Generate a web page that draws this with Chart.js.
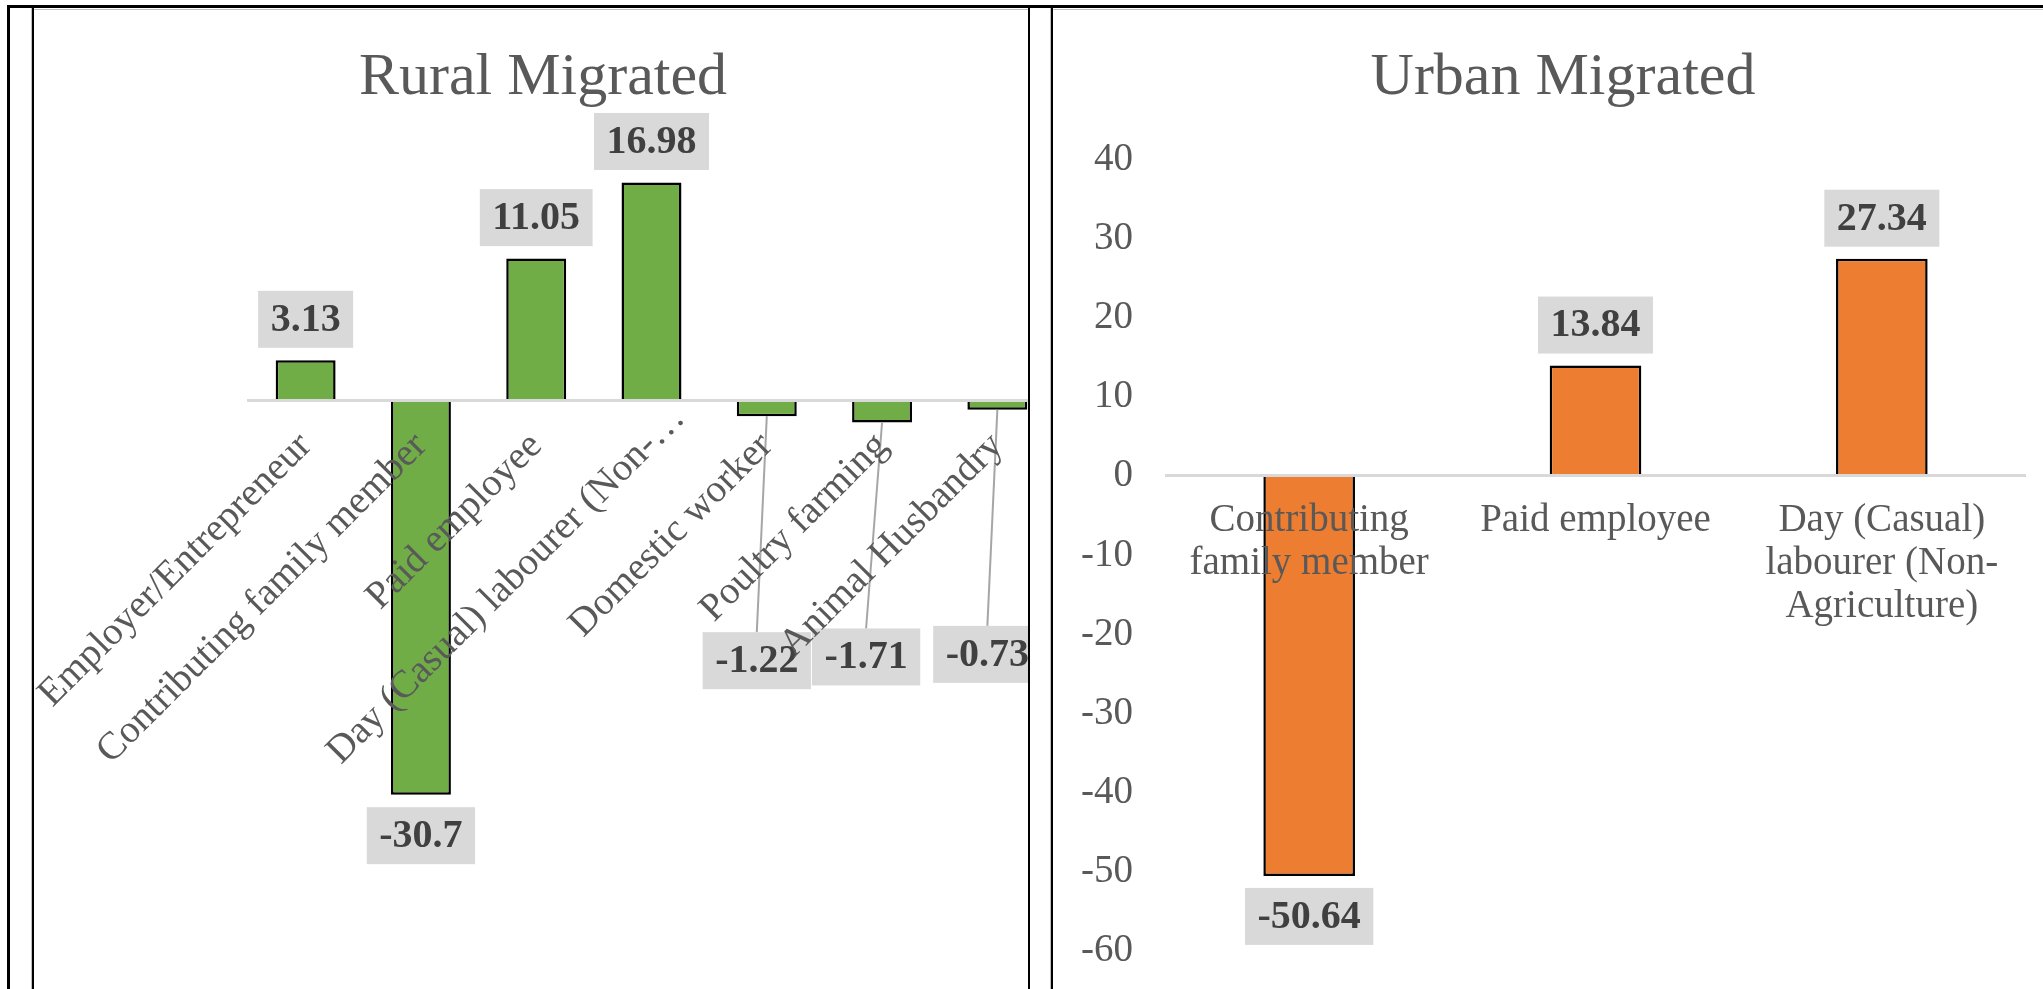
<!DOCTYPE html>
<html>
<head>
<meta charset="utf-8">
<script src="https://cdn.jsdelivr.net/npm/chart.js@4"></script>
<style>
html,body{margin:0;padding:0;background:#fff;overflow:hidden;width:2043px;height:989px;}
.cell{position:absolute;top:0;height:989px;overflow:hidden;}
.cell canvas{position:absolute;top:0;left:0;}
.ln{position:absolute;}
</style>
</head>
<body>
<div class="cell" style="left:31px;width:997px;"><canvas id="rural" width="1024" height="989"></canvas></div>
<div class="cell" style="left:1051px;width:992px;"><canvas id="urban" width="1024" height="989"></canvas></div>

<div class="ln" style="left:34px;top:9px;width:994px;height:1px;background:#bfbfbf"></div>
<div class="ln" style="left:1053px;top:9px;width:990px;height:1px;background:#bfbfbf"></div>
<div class="ln" style="left:7px;top:5px;width:2036px;height:3px;background:#000"></div>
<div class="ln" style="left:7px;top:5px;width:3px;height:984px;background:#000"></div>
<div class="ln" style="left:31px;top:8px;width:1px;height:981px;background:#bfbfbf"></div>
<div class="ln" style="left:32px;top:5px;width:2px;height:984px;background:#000"></div>
<div class="ln" style="left:1028px;top:5px;width:2px;height:984px;background:#000"></div>
<div class="ln" style="left:1050px;top:8px;width:1px;height:981px;background:#bfbfbf"></div>
<div class="ln" style="left:1051px;top:5px;width:2px;height:984px;background:#000"></div>

<script>
// ---- data ----
const ruralCategories = ["Employer/Entrepreneur", "Contributing family member", "Paid employee", "Day (Casual) labourer (Non-\u2026", "Domestic worker", "Poultry farming", "Animal Husbandry"];
const ruralValues = [3.13, -30.7, 11.05, 16.98, -1.22, -1.71, -0.73];

const urbanCategories = [["Contributing", "family member"], ["Paid employee"], ["Day (Casual)", "labourer (Non-", "Agriculture)"]];
const urbanValues = [-50.64, 13.84, 27.34];
const urbanYTicks = [40, 30, 20, 10, 0, -10, -20, -30, -40, -50, -60];

// ---- styling ----
const SERIF = "'Liberation Serif', 'Times New Roman', serif";
const AXIS_GREY = '#595959';

const boxLabels = {
  id: 'boxLabels',
  afterDatasetsDraw(chart, args, opts) {
    const ctx = chart.ctx;
    const meta = chart.getDatasetMeta(0);
    const data = chart.data.datasets[0].data;
    const leaders = opts.leaders || {};
    ctx.save();
    ctx.font = 'bold ' + opts.size + 'px ' + SERIF;
    meta.data.forEach((bar, i) => {
      const v = data[i];
      const text = String(v);
      const w = ctx.measureText(text).width + 2 * opts.padX;
      const h = opts.boxH;
      let cx = bar.x, top;
      const lead = leaders[i];
      if (lead) {
        cx = bar.x + lead.dx;
        top = bar.y + lead.dy;
        ctx.strokeStyle = '#a6a6a6';
        ctx.lineWidth = 2;
        ctx.beginPath();
        ctx.moveTo(bar.x, bar.y);
        ctx.lineTo(cx, top);
        ctx.stroke();
      } else if (v >= 0) {
        top = bar.y - opts.gap - h;
      } else {
        top = bar.y + opts.gap;
      }
      ctx.fillStyle = '#d9d9d9';
      ctx.fillRect(cx - w / 2, top, w, h);
      ctx.fillStyle = '#404040';
      ctx.textAlign = 'center';
      ctx.textBaseline = 'middle';
      ctx.fillText(text, cx, top + h / 2 + 1);
    });
    ctx.restore();
  }
};

// Excel appends the truncation ellipsis after the anchored text: let it overhang the tick.
const ellipsisOverhang = {
  id: 'ellipsisOverhang',
  beforeDraw(chart, args, opts) {
    const s = chart.scales.x;
    if (!s) return;
    const items = s.getLabelItems();
    const ctx = chart.ctx;
    ctx.save();
    items.forEach(it => {
      const txt = Array.isArray(it.label) ? it.label.join('') : String(it.label);
      if (it._shifted || !txt.endsWith(opts.suffix)) return;
      it._shifted = true;
      ctx.font = it.font.string;
      const w = ctx.measureText(opts.suffix).width;
      const r = it.options.rotation || 0;
      it.options.translation[0] += w * Math.cos(r);
      it.options.translation[1] += w * Math.sin(r);
    });
    ctx.restore();
  }
};

function zeroPad(s) { s.paddingLeft = 0; s.paddingRight = 0; s.paddingTop = 0; s.paddingBottom = 0; }

// ---- Rural chart ----
new Chart(document.getElementById('rural'), {
  type: 'bar',
  data: {
    labels: ruralCategories,
    datasets: [{
      data: ruralValues,
      backgroundColor: '#70AD47',
      borderColor: '#000000',
      borderWidth: 2.5,
      categoryPercentage: 1,
      barPercentage: 0.52
    }]
  },
  options: {
    responsive: false,
    devicePixelRatio: 1,
    animation: false,
    layout: { padding: { left: 0, right: 0, top: 0, bottom: 74.9 } },
    plugins: {
      legend: { display: false },
      tooltip: { enabled: false },
      title: {
        display: true, text: 'Rural Migrated', color: AXIS_GREY,
        font: { family: SERIF, size: 60, weight: 'normal', lineHeight: 1.2 },
        padding: { top: 42, bottom: 29.7 }
      },
      boxLabels: { size: 40, padX: 12.5, boxH: 57, gap: 12.5,
        leaders: { 4: { dx: -10, dy: 216 }, 5: { dx: -16, dy: 206 }, 6: { dx: -10, dy: 216 } } },
      ellipsisOverhang: { suffix: '\u2026' }
    },
    scales: {
      x: {
        position: { y: 0 },
        grid: { display: false, drawTicks: false },
        border: { display: true, color: '#d9d9d9', width: 3, z: 1 },
        ticks: { autoSkip: false, minRotation: 45, maxRotation: 45, padding: 23, z: 1,
          color: AXIS_GREY, font: { family: SERIF, size: 39, lineHeight: 1.2 } },
        afterFit: zeroPad
      },
      y: {
        min: -40, max: 20,
        grid: { display: false, drawTicks: false },
        border: { display: false },
        ticks: { display: false },
        afterFit: s => { zeroPad(s); s.width = 217; }
      }
    }
  },
  plugins: [boxLabels, ellipsisOverhang]
});

// ---- Urban chart ----
new Chart(document.getElementById('urban'), {
  type: 'bar',
  data: {
    labels: urbanCategories,
    datasets: [{
      data: urbanValues,
      backgroundColor: '#ED7D31',
      borderColor: '#000000',
      borderWidth: 2.5,
      categoryPercentage: 1,
      barPercentage: 0.32
    }]
  },
  options: {
    responsive: false,
    devicePixelRatio: 1,
    animation: false,
    layout: { padding: { left: 0, right: 0, top: 0, bottom: 39 } },
    plugins: {
      legend: { display: false },
      tooltip: { enabled: false },
      title: {
        display: true, text: 'Urban Migrated', color: AXIS_GREY,
        font: { family: SERIF, size: 60, weight: 'normal', lineHeight: 1.2 },
        padding: { top: 42, bottom: 44.5 }
      },
      boxLabels: { size: 40, padX: 12.5, boxH: 57, gap: 12 }
    },
    scales: {
      x: {
        position: { y: 0 },
        grid: { display: false, drawTicks: false },
        border: { display: true, color: '#d9d9d9', width: 3, z: 1 },
        ticks: { autoSkip: false, minRotation: 0, maxRotation: 0, padding: 24, z: 1,
          color: AXIS_GREY, font: { family: SERIF, size: 39, lineHeight: 1.1 } },
        afterFit: zeroPad
      },
      y: {
        min: -60, max: 40,
        afterBuildTicks: s => { s.ticks = urbanYTicks.map(v => ({ value: v })); },
        grid: { display: false, drawTicks: false },
        border: { display: false },
        ticks: { padding: 33, labelOffset: 1, color: AXIS_GREY, font: { family: SERIF, size: 39 } },
        afterFit: s => { zeroPad(s); s.width = 115; }
      },
      y2: {
        position: 'right',
        min: -60, max: 40,
        grid: { display: false, drawTicks: false },
        border: { display: false },
        ticks: { display: false },
        afterFit: s => { zeroPad(s); s.width = 50; }
      }
    }
  },
  plugins: [boxLabels]
});
</script>
</body>
</html>
